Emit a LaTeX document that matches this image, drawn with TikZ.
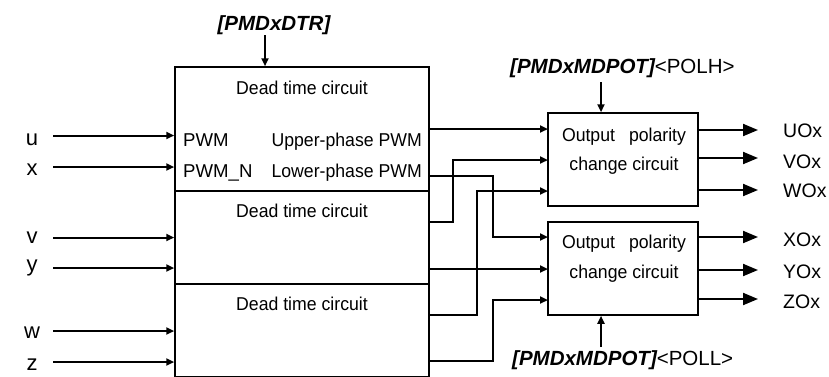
\documentclass[tikz,border=0pt]{standalone}
\usepackage{fontspec}
\setmainfont{Liberation Sans}
\newfontfamily\condfont{Liberation Sans}[FakeStretch=0.95]
\usetikzlibrary{arrows.meta}
\begin{document}
\begin{tikzpicture}[x=1pt,y=-1pt,
  every node/.style={inner sep=0pt, font=\fontsize{18.6}{21}\selectfont},
  blk/.style={draw, line width=1.5pt, inner sep=0pt},
  txt/.style={anchor=base},
  cond/.style={font=\fontsize{18.6}{21}\condfont},
  inl/.style={anchor=base, font=\fontsize{22}{24}\selectfont},
  outl/.style={anchor=base west, font=\fontsize{19.5}{22}\selectfont},
  ctl/.style={font=\fontsize{20.5}{24}\selectfont},
  wire/.style={line width=2pt, -{Triangle[length=8pt,width=7pt]}},
  outarr/.style={line width=2pt, -{Triangle[length=15pt,width=12pt]}}]
\useasboundingbox (0,0) rectangle (829,376);
% dead time blocks
\node[blk, minimum width=254pt, minimum height=124pt] (B1) at (302,129) {};
\node[blk, minimum width=254pt, minimum height=93pt] (B2) at (302,237.5) {};
\node[blk, minimum width=254pt, minimum height=93pt] (B3) at (302,330.5) {};
% polarity blocks
\node[blk, minimum width=150pt, minimum height=93pt] (P1) at (623,159.5) {};
\node[blk, minimum width=150pt, minimum height=93pt] (P2) at (623,268.5) {};
% texts in dead time blocks
\node[cond, txt] (d1) at (302,94) {Dead time circuit};
\node[cond, txt] (d2) at (302,217) {Dead time circuit};
\node[cond, txt] (d3) at (302,310) {Dead time circuit};
\node[anchor=base west] (pw) at (183,146) {PWM};
\node[anchor=base west] (pwn) at (183,177) {PWM\_N};
\node[cond, anchor=base east] (up) at (422,146) {Upper-phase PWM};
\node[cond, anchor=base east] (lo) at (422,177) {Lower-phase PWM};
% texts in polarity blocks
\node[cond, txt] (o1) at (624,141) {\makebox[124pt][s]{Output polarity}};
\node[cond, txt] (c1) at (624,170) {change circuit};
\node[cond, txt] (o2) at (624,248) {\makebox[124pt][s]{Output polarity}};
\node[cond, txt] (c2) at (624,278) {change circuit};
% input labels
\node[inl] (lu) at (32,145) {u};
\node[inl] (lx) at (32,175) {x};
\node[inl] (lv) at (32,243) {v};
\node[inl] (ly) at (32,271) {y};
\node[inl] (lw) at (32,338) {w};
\node[inl] (lz) at (32,370) {z};
\coordinate (iu) at (53,135.5);
\coordinate (ix) at (53,167);
\coordinate (iv) at (53,237.5);
\coordinate (iy) at (53,268);
\coordinate (iw) at (53,331);
\coordinate (iz) at (53,362);
\draw[wire] (iu) -- (iu -| B1.west);
\draw[wire] (ix) -- (ix -| B1.west);
\draw[wire] (iv) -- (iv -| B2.west);
\draw[wire] (iy) -- (iy -| B2.west);
\draw[wire] (iw) -- (iw -| B3.west);
\draw[wire] (iz) -- (iz -| B3.west);
% control labels
\node[ctl, txt] (dtr) at (274,30) {\bfseries\itshape [PMDxDTR]};
\coordinate (dtrs) at (265,35);
\draw[wire] (dtrs) -- (dtrs |- B1.north);
\node[ctl, anchor=base west] (polh) at (510,73) {{\bfseries\itshape [PMDxMDPOT]}<POLH>};
\coordinate (phs) at (601,82);
\draw[wire] (phs) -- (phs |- P1.north);
\node[ctl, anchor=base west] (poll) at (512,365) {{\bfseries\itshape [PMDxMDPOT]}<POLL>};
\coordinate (pls) at (601,347);
\draw[wire] (pls) -- (pls |- P2.south);
% ports
\coordinate (b1u) at (429,129);
\coordinate (b1l) at (429,176);
\coordinate (b2u) at (429,222);
\coordinate (b2l) at (429,269);
\coordinate (b3u) at (429,315);
\coordinate (b3l) at (429,361);
\coordinate (p1a) at (548,129);
\coordinate (p1b) at (548,160);
\coordinate (p1c) at (548,191);
\coordinate (p2a) at (548,237);
\coordinate (p2b) at (548,269);
\coordinate (p2c) at (548,300);
\draw[wire] (b1u) -- (p1a);
\draw[wire] (b1l) -- ++(64,0) |- (p2a);
\draw[wire] (b2u) -- ++(24,0) |- (p1b);
\draw[wire] (b2l) -- (p2b);
\draw[wire] (b3u) -- ++(48,0) |- (p1c);
\draw[wire] (b3l) -- ++(64,0) |- (p2c);
% outputs
\node[outl] (uo) at (783,137) {UOx};
\node[outl] (vo) at (783,168) {VOx};
\node[outl] (wo) at (783,197) {WOx};
\node[outl] (xo) at (783,246) {XOx};
\node[outl] (yo) at (783,278) {YOx};
\node[outl] (zo) at (783,308) {ZOx};
\coordinate (q1a) at (698,130); \coordinate (e1a) at (758,130);
\coordinate (q1b) at (698,158); \coordinate (e1b) at (758,158);
\coordinate (q1c) at (698,190); \coordinate (e1c) at (758,190);
\coordinate (q2a) at (698,237); \coordinate (e2a) at (758,237);
\coordinate (q2b) at (698,270); \coordinate (e2b) at (758,270);
\coordinate (q2c) at (698,299); \coordinate (e2c) at (758,299);
\draw[outarr] (q1a) -- (e1a);
\draw[outarr] (q1b) -- (e1b);
\draw[outarr] (q1c) -- (e1c);
\draw[outarr] (q2a) -- (e2a);
\draw[outarr] (q2b) -- (e2b);
\draw[outarr] (q2c) -- (e2c);
\end{tikzpicture}
\end{document}
